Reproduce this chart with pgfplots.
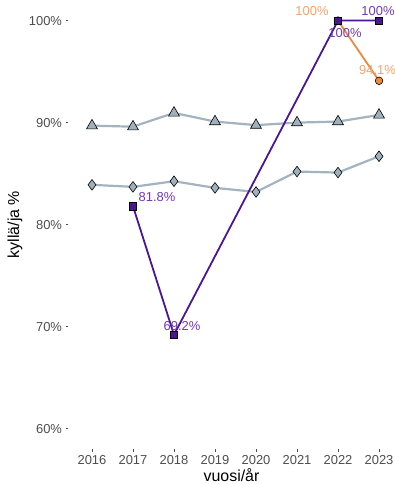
\documentclass[border=0pt]{standalone}
\usepackage{fontspec}
\setmainfont{Liberation Sans}
\usepackage{pgfplots}
\pgfplotsset{compat=1.18}
\definecolor{greyline}{HTML}{A3B4C0}
\definecolor{greyfill}{HTML}{A0B1BD}
\definecolor{purp}{HTML}{4B1593}
\definecolor{purplab}{HTML}{7438B4}
\definecolor{orng}{HTML}{EB8A3F}
\definecolor{orlab}{HTML}{F5A26C}
\definecolor{ticktxt}{HTML}{4D4D4D}
\begin{document}
\begin{tikzpicture}[x=1bp,y=1bp]
\begin{axis}[at={(0,0)}, anchor=south west, scale only axis,
  width=327bp, height=448.8bp,
  xmin=2015.415, xmax=2023.39, ymin=58, ymax=102,
  axis line style={draw=none},
  xtick={2016,2017,2018,2019,2020,2021,2022,2023},
  ytick={60,70,80,90,100},
  xtick pos=left, ytick pos=left,
  tick align=outside, major tick length=2.5bp,
  tick style={color=ticktxt, line width=0.6bp},
  /pgf/number format/assume math mode=true,
  x tick label style={/pgf/number format/set thousands separator={}, text=ticktxt, font=\fontsize{13}{15}\selectfont},
  yticklabel={\pgfmathprintnumber{\tick}\%},
  y tick label style={text=ticktxt, font=\fontsize{13}{15}\selectfont},
  clip=false,
]
\addplot[greyline, line width=2.2bp, mark=triangle*, mark size=6.3bp, mark options={fill=greyfill, draw=black, line width=0.6bp}]
  coordinates {(2016,89.7) (2017,89.6) (2018,90.95) (2019,90.1) (2020,89.75) (2021,90.0) (2022,90.1) (2023,90.75)};
\addplot[greyline, line width=2.2bp, mark=diamond*, mark size=5.3bp, mark options={fill=greyfill, draw=black, line width=0.6bp}]
  coordinates {(2016,83.9) (2017,83.7) (2018,84.25) (2019,83.6) (2020,83.2) (2021,85.2) (2022,85.1) (2023,86.7)};
\addplot[orng, line width=1.8bp, mark=*, mark size=3.8bp, mark options={fill=orng, draw=black, line width=0.6bp}]
  coordinates {(2022,100) (2023,94.1)};
\addplot[purp, line width=1.8bp, mark=square*, mark size=3.7bp, mark options={fill=purp, draw=black, line width=0.6bp}]
  coordinates {(2017,81.8) (2018,69.2) (2022,100) (2023,100)};
\begin{scope}[font=\fontsize{13}{15}\selectfont]
\node[text=purplab] at (axis cs:2017,81.8) [xshift=24bp, yshift=9.5bp] {81.8\%};
\node[text=purplab] at (axis cs:2018,69.2) [xshift=8bp, yshift=8.5bp] {69.2\%};
\node[text=orlab] at (axis cs:2022,100) [xshift=-26bp, yshift=9.5bp] {100\%};
\node[text=purplab] at (axis cs:2022,100) [xshift=7bp, yshift=-12bp] {100\%};
\node[text=purplab] at (axis cs:2023,100) [xshift=-1bp, yshift=9.5bp] {100\%};
\node[text=orlab] at (axis cs:2023,94.1) [xshift=-1.5bp, yshift=10.5bp] {94.1\%};
\end{scope}
\node[xshift=-53bp, font=\fontsize{16}{18}\selectfont, rotate=90] at (rel axis cs:0,0.5) {kyllä/ja \%};
\node[yshift=-26bp, font=\fontsize{16}{18}\selectfont] at (rel axis cs:0.5,0) {vuosi/år};
\end{axis}
\pgfresetboundingbox
\path (-68bp,-35bp) rectangle (327bp,449bp);
\end{tikzpicture}
\end{document}
